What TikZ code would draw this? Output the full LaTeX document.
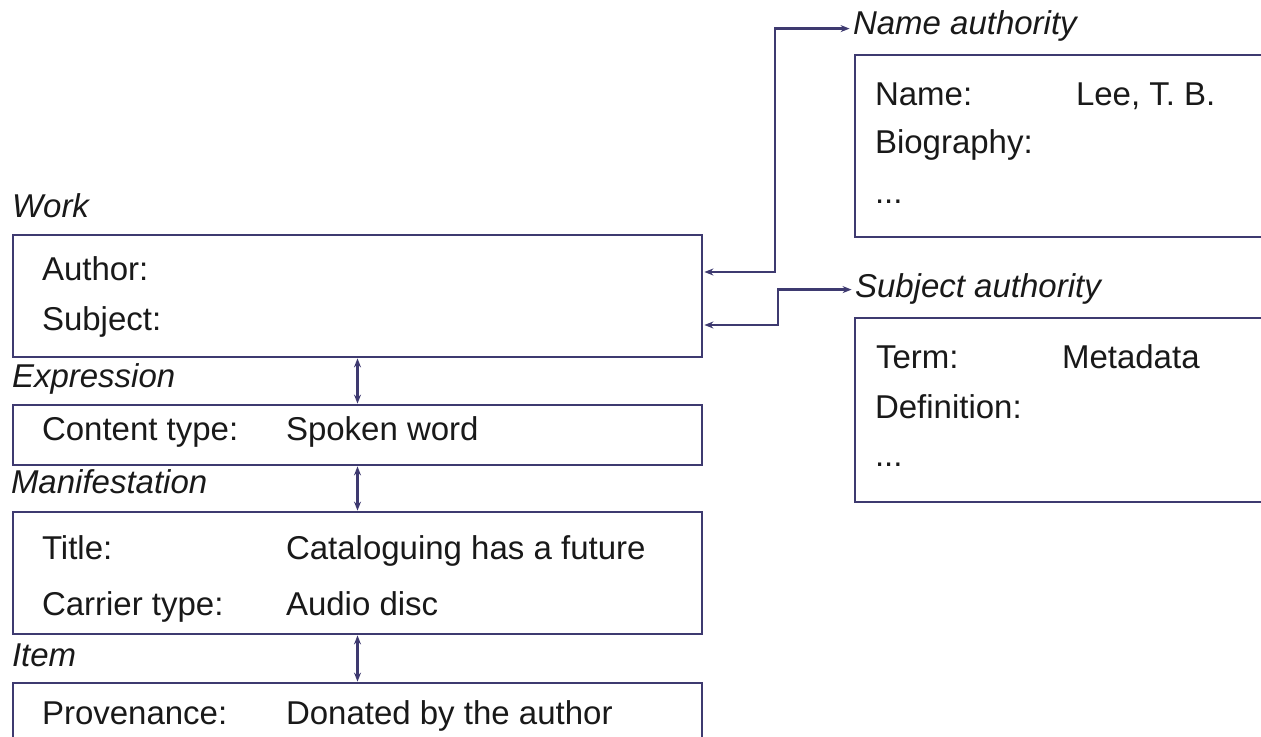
\documentclass[tikz,border=0pt]{standalone}
\usepackage{fontspec}
\setmainfont{Liberation Sans}
\usetikzlibrary{arrows.meta}
\definecolor{boxline}{RGB}{62,58,112}
\definecolor{ink}{RGB}{25,25,25}

\begin{document}
\begin{tikzpicture}
[ x=0.5pt, y=-0.5pt
, entity/.style={rectangle, draw=boxline, line width=1.4pt, inner sep=0pt}
, heading/.style={anchor=base west, inner sep=0pt, text=ink, font=\fontsize{16.5}{19}\selectfont\itshape}
, field/.style={anchor=base west, inner sep=0pt, text=ink, font=\fontsize{16.5}{19}\selectfont}
, link/.style={draw=boxline, line width=1.2pt, {Stealth[length=4.5pt,width=3.5pt]}-{Stealth[length=4.5pt,width=3.5pt]}}
]
\useasboundingbox (0,0) rectangle (1261,737);
\clip (0,0) rectangle (1261,737);
% Boxes:
\node (work) [entity, minimum width=344.5pt, minimum height=61pt] at (357.5,296) {};
\node (expr) [entity, minimum width=344.5pt, minimum height=30pt] at (357.5,435) {};
\node (manif) [entity, minimum width=344.5pt, minimum height=61pt] at (357.5,573) {};
\node (item) [entity, minimum width=344.5pt, minimum height=61pt] at (357.5,744) {};
\node (nameauth) [entity, minimum width=222.5pt, minimum height=91pt] at (1077.5,146) {};
\node (subjauth) [entity, minimum width=222.5pt, minimum height=92pt] at (1077.5,410) {};
% Headings:
\node (workh) [heading] at ([shift={(0,-16)}]work.north west) {Work};
\node (exprh) [heading] at ([shift={(0,-16)}]expr.north west) {Expression};
\node (manifh) [heading] at ([shift={(-1,-17)}]manif.north west) {Manifestation};
\node (itemh) [heading] at ([shift={(0,-15)}]item.north west) {Item};
\node (nameh) [heading] at ([shift={(-1,-19)}]nameauth.north west) {Name authority};
\node (subjh) [heading] at ([shift={(1,-19)}]subjauth.north west) {Subject authority};
% Fields:
\node (author) [field] at ([shift={(30,47)}]work.north west) {Author:};
\node (subject) [field] at ([shift={(30,97)}]work.north west) {Subject:};
\node (ctype) [field] at ([shift={(30,37)}]expr.north west) {Content type:};
\node (ctypev) [field] at ([shift={(274,37)}]expr.north west) {Spoken word};
\node (title) [field] at ([shift={(30,49)}]manif.north west) {Title:};
\node (titlev) [field] at ([shift={(274,49)}]manif.north west) {Cataloguing has a future};
\node (carrier) [field] at ([shift={(30,105)}]manif.north west) {Carrier type:};
\node (carrierv) [field] at ([shift={(274,105)}]manif.north west) {Audio disc};
\node (prov) [field] at ([shift={(30,43)}]item.north west) {Provenance:};
\node (provv) [field] at ([shift={(274,43)}]item.north west) {Donated by the author};
\node (name) [field] at ([shift={(21,52)}]nameauth.north west) {Name:};
\node (namev) [field] at ([shift={(222,52)}]nameauth.north west) {Lee, T. B.};
\node (bio) [field] at ([shift={(21,100)}]nameauth.north west) {Biography:};
\node (nmore) [field] at ([shift={(21,150)}]nameauth.north west) {...};
\node (term) [field] at ([shift={(22,52)}]subjauth.north west) {Term:};
\node (termv) [field] at ([shift={(208,52)}]subjauth.north west) {Metadata};
\node (defn) [field] at ([shift={(21,102)}]subjauth.north west) {Definition:};
\node (smore) [field] at ([shift={(21,150)}]subjauth.north west) {...};
% Links between the levels:
\draw [link] (work.south) -- (expr.north);
\draw [link] (expr.south) -- (manif.north);
\draw [link] (manif.south) -- (item.north);
% Links to the authorities:
\coordinate (wa) at ([shift={(1,-24)}]work.east);
\coordinate (ws) at ([shift={(1,29)}]work.east);
\coordinate (na) at ([shift={(-3,-6)}]nameh.base west);
\coordinate (sa) at ([shift={(-3,-8)}]subjh.base west);
\coordinate (nbend) at (775,0);
\coordinate (sbend) at (778,0);
\draw [link] (wa) -- (wa -| nbend) |- (na);
\draw [link] (ws) -- (ws -| sbend) |- (sa);
\end{tikzpicture}
\end{document}
